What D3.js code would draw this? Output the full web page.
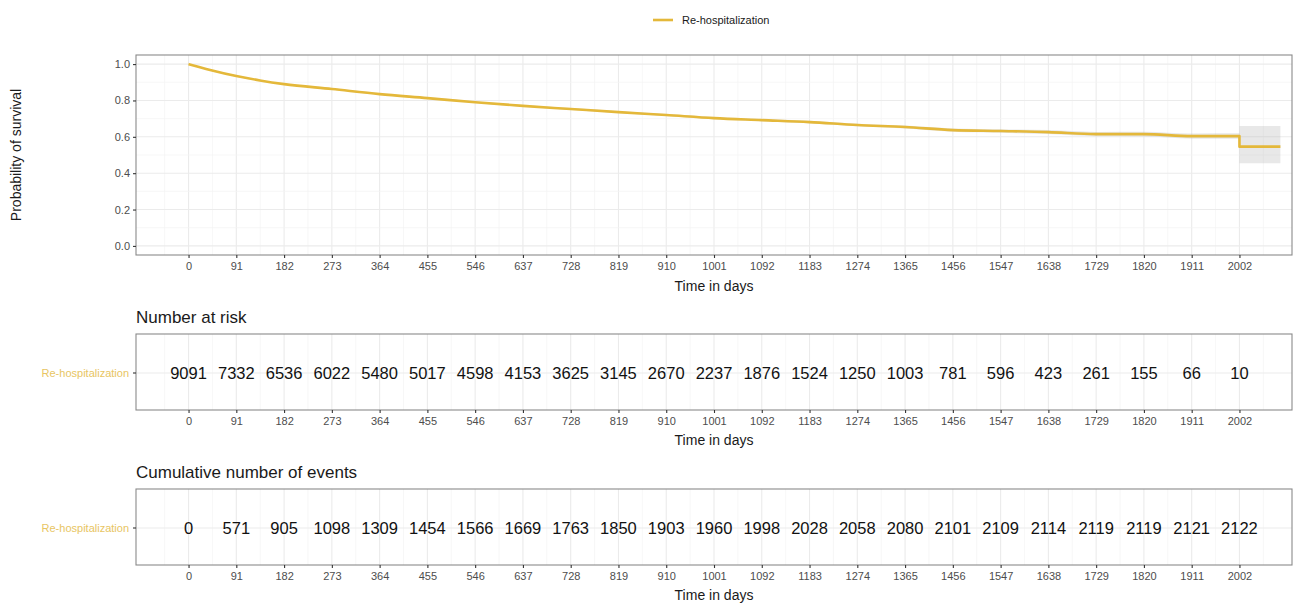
<!DOCTYPE html>
<html>
<head>
<meta charset="utf-8">
<script src="https://cdn.jsdelivr.net/npm/d3@7"></script>
<style>
  body { margin: 0; background: #fff; }
  svg { font-family: "Liberation Sans", Arial, sans-serif; }
</style>
</head>
<body>
<svg id="chart"></svg>
<script>
// data
const stratum = "Re-hospitalization";
const timeTicks = [0, 91, 182, 273, 364, 455, 546, 637, 728, 819, 910, 1001, 1092, 1183, 1274, 1365, 1456, 1547, 1638, 1729, 1820, 1911, 2002];
const survTimes = [0, 20, 45, 91, 136, 182, 273, 364, 455, 546, 637, 728, 819, 910, 1001, 1092, 1183, 1274, 1365, 1456, 1547, 1638, 1729, 1820, 1911, 2002];
const survValues = [1.0, 0.984, 0.965, 0.934, 0.91, 0.89, 0.863, 0.835, 0.813, 0.79, 0.77, 0.753, 0.736, 0.72, 0.703, 0.692, 0.681, 0.665, 0.654, 0.637, 0.632, 0.626, 0.615, 0.615, 0.604, 0.604];
const survLower = [1.0, 0.982, 0.962, 0.931, 0.907, 0.887, 0.859, 0.831, 0.809, 0.786, 0.765, 0.748, 0.731, 0.714, 0.697, 0.686, 0.674, 0.658, 0.646, 0.628, 0.622, 0.615, 0.603, 0.602, 0.59, 0.589];
const survUpper = [1.0, 0.986, 0.968, 0.937, 0.913, 0.893, 0.867, 0.839, 0.817, 0.794, 0.775, 0.758, 0.741, 0.726, 0.709, 0.698, 0.688, 0.672, 0.662, 0.646, 0.642, 0.637, 0.627, 0.628, 0.618, 0.619];
// last step after day 2002
const tailTimes = [2002, 2080];
const tailValue = 0.546, tailLower = 0.455, tailUpper = 0.66;
const atRisk = [9091, 7332, 6536, 6022, 5480, 5017, 4598, 4153, 3625, 3145, 2670, 2237, 1876, 1524, 1250, 1003, 781, 596, 423, 261, 155, 66, 10];
const cumEvents = [0, 571, 905, 1098, 1309, 1454, 1566, 1669, 1763, 1850, 1903, 1960, 1998, 2028, 2058, 2080, 2101, 2109, 2114, 2119, 2119, 2121, 2122];
const yTicks = [0, 0.2, 0.4, 0.6, 0.8, 1.0];

const width = 1295, height = 605;
const lineColor = "#E4B83A";
const labelColor = "#E8C562";
const left = 136, right = 1292;
const fontFam = "Liberation Sans, Arial, sans-serif";

const svg = d3.select("#chart").attr("width", width).attr("height", height);

const x = d3.scaleLinear().domain([-100.1, 2102.1]).range([left, right]);
const minorX = d3.range(-45.5, 2100, 91);

function panelFrame(top, bottom) {
  const g = svg.append("g");
  g.append("rect").attr("x", left).attr("y", top).attr("width", right - left).attr("height", bottom - top).attr("fill", "#fff");
  g.selectAll(".vminor").data(minorX).enter().append("line")
    .attr("x1", d => x(d)).attr("x2", d => x(d)).attr("y1", top).attr("y2", bottom)
    .attr("stroke", "#F3F3F3").attr("stroke-width", 0.7);
  g.selectAll(".vmajor").data(timeTicks).enter().append("line")
    .attr("x1", d => x(d)).attr("x2", d => x(d)).attr("y1", top).attr("y2", bottom)
    .attr("stroke", "#EBEBEB").attr("stroke-width", 1.1);
  return g;
}

function xAxis(bottom, titleY) {
  const ax = svg.append("g").attr("transform", `translate(0,${bottom})`)
    .call(d3.axisBottom(x).tickValues(timeTicks).tickFormat(d3.format("d")).tickSize(3).tickPadding(4));
  ax.attr("font-family", fontFam);
  ax.select(".domain").remove();
  ax.selectAll(".tick line").attr("stroke", "#333").attr("stroke-width", 1.1);
  ax.selectAll(".tick text").attr("fill", "#4D4D4D").attr("font-size", "11px");
  svg.append("text").attr("x", (left + right) / 2).attr("y", titleY)
    .attr("text-anchor", "middle").attr("font-size", "14px").attr("fill", "#1a1a1a").text("Time in days");
}

function border(top, bottom) {
  svg.append("rect").attr("x", left).attr("y", top).attr("width", right - left).attr("height", bottom - top)
    .attr("fill", "none").attr("stroke", "#8a8a8a").attr("stroke-width", 1.1);
}

// ---- survival panel
const sTop = 55, sBottom = 255;
const y = d3.scaleLinear().domain([-0.05, 1.05]).range([sBottom, sTop]);
const gS = panelFrame(sTop, sBottom);
gS.selectAll(".hminor").data(d3.range(0.1, 1.0, 0.2)).enter().append("line")
  .attr("x1", left).attr("x2", right).attr("y1", d => y(d)).attr("y2", d => y(d))
  .attr("stroke", "#F3F3F3").attr("stroke-width", 0.7);
gS.selectAll(".hmajor").data(yTicks).enter().append("line")
  .attr("x1", left).attr("x2", right).attr("y1", d => y(d)).attr("y2", d => y(d))
  .attr("stroke", "#EBEBEB").attr("stroke-width", 1.1);

const survData = survTimes.map((t, i) => ({ t, s: survValues[i], lo: survLower[i], hi: survUpper[i] }));
const tailData = tailTimes.map(t => ({ t, s: tailValue, lo: tailLower, hi: tailUpper }));

const band = d3.area().x(d => x(d.t)).y0(d => y(d.lo)).y1(d => y(d.hi));
svg.append("path").datum(survData).attr("d", band.curve(d3.curveMonotoneX))
  .attr("fill", "#B3B3B3").attr("opacity", 0.3);
svg.append("path").datum(tailData).attr("d", band.curve(d3.curveLinear))
  .attr("fill", "#B3B3B3").attr("opacity", 0.3);

const survLine = d3.line().x(d => x(d.t)).y(d => y(d.s));
svg.append("path").datum(survData.concat(tailData))
  .attr("d", d => survLine.curve(d3.curveMonotoneX)(d.slice(0, survData.length)) +
    survLine.curve(d3.curveLinear)([d[survData.length - 1]].concat(d.slice(survData.length))).replace(/^M/, "L"))
  .attr("fill", "none").attr("stroke", lineColor).attr("stroke-width", 2.6).attr("stroke-linejoin", "round");

border(sTop, sBottom);

const yAx = svg.append("g").attr("transform", `translate(${left},0)`)
  .call(d3.axisLeft(y).tickValues(yTicks).tickFormat(d3.format(".1f")).tickSize(3).tickPadding(3));
yAx.attr("font-family", fontFam);
yAx.select(".domain").remove();
yAx.selectAll(".tick line").attr("stroke", "#333").attr("stroke-width", 1.1);
yAx.selectAll(".tick text").attr("fill", "#4D4D4D").attr("font-size", "11px");

svg.append("text").attr("transform", `translate(21,${(sTop + sBottom) / 2}) rotate(-90)`)
  .attr("text-anchor", "middle").attr("font-size", "14px").attr("fill", "#1a1a1a").text("Probability of survival");

xAxis(sBottom, 291);

// ---- legend
svg.append("line").attr("x1", 653).attr("x2", 673).attr("y1", 20).attr("y2", 20)
  .attr("stroke", lineColor).attr("stroke-width", 2.6);
svg.append("text").attr("x", 682).attr("y", 24).attr("font-size", "11px").attr("fill", "#1a1a1a").text(stratum);

// ---- tables
function table(title, values, top, bottom) {
  const rowY = (top + bottom) / 2 + 1;
  svg.append("text").attr("x", left).attr("y", top - 11).attr("font-size", "17px").attr("fill", "#1a1a1a").text(title);
  const g = panelFrame(top, bottom);
  g.append("line").attr("x1", left).attr("x2", right).attr("y1", rowY).attr("y2", rowY)
    .attr("stroke", "#EBEBEB").attr("stroke-width", 1.1);
  svg.selectAll(null).data(values).enter().append("text")
    .attr("x", (d, i) => x(timeTicks[i])).attr("y", rowY + 6)
    .attr("text-anchor", "middle").attr("font-size", "16.5px").attr("fill", "#111").text(d => d);
  border(top, bottom);
  svg.append("line").attr("x1", left - 3).attr("x2", left).attr("y1", rowY).attr("y2", rowY)
    .attr("stroke", "#333").attr("stroke-width", 1.1);
  svg.append("text").attr("x", left - 7).attr("y", rowY + 4).attr("text-anchor", "end")
    .attr("font-size", "11px").attr("fill", labelColor).text(stratum);
  xAxis(bottom, bottom + 35);
}

table("Number at risk", atRisk, 334, 410);
table("Cumulative number of events", cumEvents, 489, 565);
</script>
</body>
</html>
